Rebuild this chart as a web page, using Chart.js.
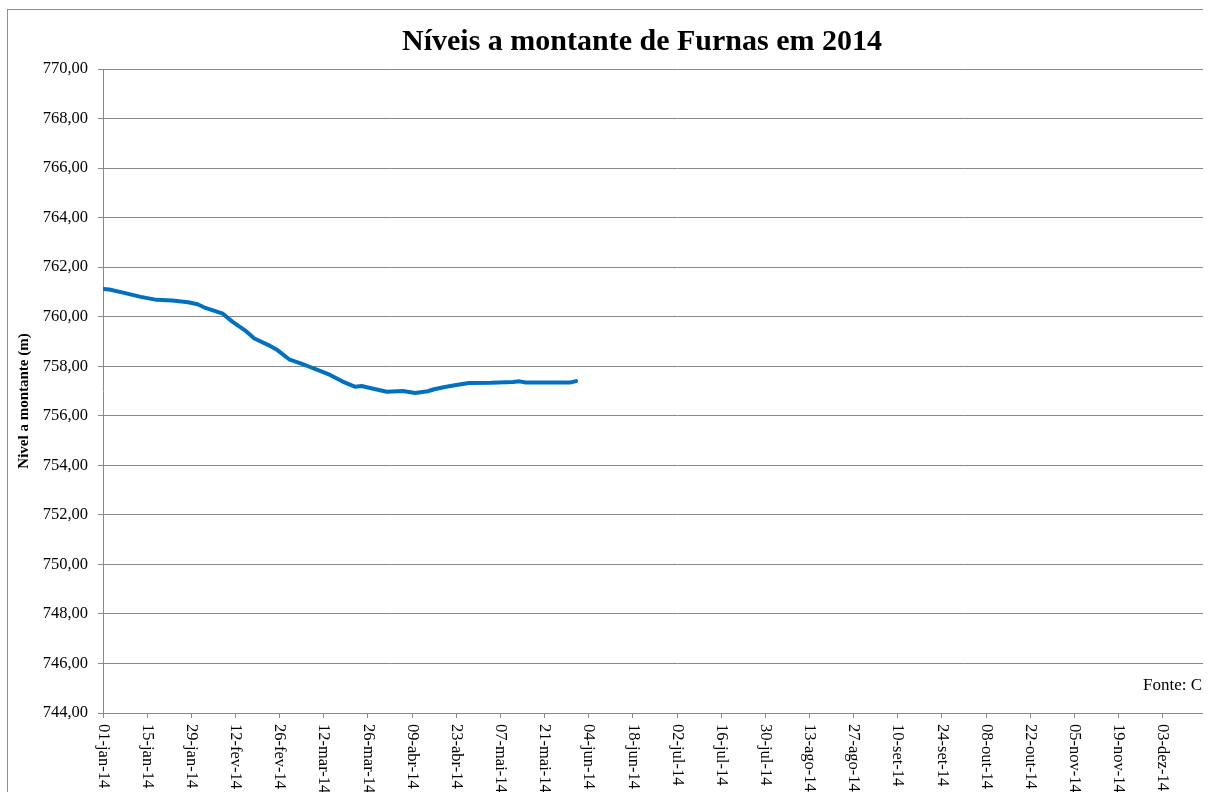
<!DOCTYPE html>
<html lang="pt-BR">
<head>
<meta charset="UTF-8">
<title>Níveis a montante de Furnas em 2014</title>
<script src="https://cdn.jsdelivr.net/npm/chart.js"></script>
<style>
  html, body { margin: 0; padding: 0; background: #fff; overflow: hidden; }
  #recorte { position: absolute; left: 0; top: 0; width: 1203px; height: 792px; overflow: hidden; }
  #moldura { position: absolute; left: 7px; top: 9px; width: 1269px; height: 800px; border: 1px solid #8c8c8c; }
</style>
</head>
<body>
<div id="recorte"><div id="moldura"><canvas id="grafico" width="1269" height="800"></canvas></div></div>
<script>
const titulo = 'Níveis a montante de Furnas em 2014';
const tituloEixoY = 'Nivel a montante (m)';
const fonte = 'Fonte: C';
const meses = ['jan', 'fev', 'mar', 'abr', 'mai', 'jun', 'jul', 'ago', 'set', 'out', 'nov', 'dez'];

// leituras diarias (amostradas) do nivel a montante, em metros
const datas = [
  '2014-01-01', '2014-01-03', '2014-01-07', '2014-01-13', '2014-01-18', '2014-01-23',
  '2014-01-28', '2014-01-31', '2014-02-02', '2014-02-08', '2014-02-11', '2014-02-15',
  '2014-02-18', '2014-02-23', '2014-02-25', '2014-03-01', '2014-03-06', '2014-03-10',
  '2014-03-14', '2014-03-18', '2014-03-22', '2014-03-24', '2014-03-27', '2014-04-01',
  '2014-04-06', '2014-04-10', '2014-04-14', '2014-04-16', '2014-04-19', '2014-04-23',
  '2014-04-27', '2014-05-04', '2014-05-11', '2014-05-13', '2014-05-15', '2014-05-22',
  '2014-05-29', '2014-05-31'
];
const niveis = [
  761.12, 761.10, 760.98, 760.80, 760.68, 760.65,
  760.58, 760.50, 760.38, 760.12, 759.80, 759.45,
  759.12, 758.82, 758.68, 758.28, 758.05, 757.85,
  757.65, 757.38, 757.17, 757.20, 757.11, 756.97,
  757.00, 756.92, 756.99, 757.07, 757.15, 757.24,
  757.32, 757.33, 757.36, 757.39, 757.34, 757.34,
  757.34, 757.40
];

const yMin = 744, yMax = 770, yPasso = 2;
const diasNoAno = 365, xPasso = 14;

const inicio = Date.UTC(2014, 0, 1);
function diaDoAno(iso) {
  const [a, m, d] = iso.split('-').map(Number);
  return (Date.UTC(a, m - 1, d) - inicio) / 86400000;
}
function rotuloData(dia) {
  const dt = new Date(inicio + dia * 86400000);
  const dd = String(dt.getUTCDate()).padStart(2, '0');
  return dd + '-' + meses[dt.getUTCMonth()] + '-14';
}

const cinza = '#888888';
const serif = '"Liberation Serif", "Times New Roman", serif';

const textos = {
  id: 'textos',
  afterDraw(chart) {
    const { ctx, chartArea, scales } = chart;
    ctx.save();
    ctx.fillStyle = '#000';

    ctx.font = 'bold 30px ' + serif;
    ctx.textAlign = 'center';
    ctx.textBaseline = 'alphabetic';
    ctx.fillText(titulo, 634, 39.5);

    ctx.save();
    ctx.translate(16, 391);
    ctx.rotate(-Math.PI / 2);
    ctx.font = 'bold 15px ' + serif;
    ctx.textAlign = 'center';
    ctx.textBaseline = 'middle';
    ctx.fillText(tituloEixoY, 0, 0);
    ctx.restore();

    // rotulos do eixo x, lidos de cima para baixo
    ctx.font = '16.5px ' + serif;
    ctx.textAlign = 'left';
    ctx.textBaseline = 'middle';
    scales.x.ticks.forEach(t => {
      const px = scales.x.getPixelForValue(t.value);
      if (px > 1190) return; // fora do recorte da imagem
      ctx.save();
      ctx.translate(px, chartArea.bottom + 11);
      ctx.rotate(Math.PI / 2);
      ctx.fillText(rotuloData(t.value), 0, 0);
      ctx.restore();
    });

    ctx.font = '17px ' + serif;
    ctx.textAlign = 'left';
    ctx.textBaseline = 'alphabetic';
    ctx.fillText(fonte, 1135, 680);
    ctx.restore();
  }
};

new Chart(document.getElementById('grafico'), {
  type: 'line',
  data: {
    datasets: [{
      label: 'Nível a montante',
      data: datas.map((d, i) => ({ x: diaDoAno(d), y: niveis[i] })),
      borderColor: '#0070C0',
      borderWidth: 4,
      pointRadius: 0,
      tension: 0,
      borderCapStyle: 'round',
      borderJoinStyle: 'round'
    }]
  },
  options: {
    responsive: false,
    animation: false,
    layout: { padding: { top: 59, right: 26, left: 0, bottom: 0 } },
    plugins: { legend: { display: false }, tooltip: { enabled: false } },
    scales: {
      x: {
        type: 'linear',
        min: 0,
        max: diasNoAno - 1,
        ticks: { stepSize: xPasso, display: false },
        grid: { drawOnChartArea: false, drawTicks: true, tickLength: 5, color: cinza },
        border: { color: cinza },
        afterFit(s) { s.height = 97; }
      },
      y: {
        min: yMin,
        max: yMax,
        ticks: {
          stepSize: yPasso,
          padding: 10,
          color: '#000',
          font: { family: serif, size: 16.5 },
          callback: v => v.toFixed(2).replace('.', ',')
        },
        grid: { color: cinza, tickLength: 5 },
        border: { color: cinza },
        afterFit(s) { s.width = 95; }
      }
    }
  },
  plugins: [textos]
});
</script>
</body>
</html>
